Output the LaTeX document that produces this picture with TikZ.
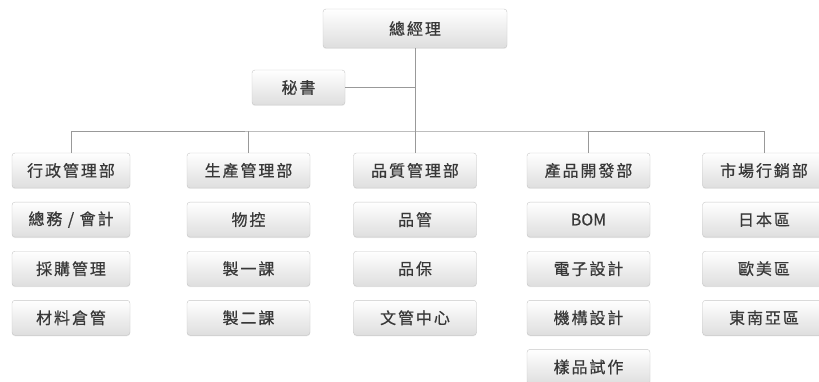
\documentclass[tikz,border=0pt]{standalone}
\usepackage{fontspec}
\newfontfamily\cjk[LetterSpace=12,FakeBold=0.6]{Noto Sans CJK TC}
\newfontfamily\latn[FakeBold=0.6]{Noto Sans CJK TC}
\usetikzlibrary{positioning,shadows}

\begin{document}
\begin{tikzpicture}[x=1pt,y=-1pt]
\tikzstyle{unit}=[rectangle, rounded corners=3pt, draw=black!22, top color=white, bottom color=black!13, minimum width=123pt, minimum height=35pt, inner sep=0pt, font=\cjk\fontsize{16}{16}\selectfont, text=black!78, drop shadow={opacity=0.15, shadow xshift=0pt, shadow yshift=-1pt}, node distance=13.7pt]
\tikzstyle{link}=[draw=black!40, line width=0.8pt]
  \useasboundingbox (0,0) rectangle (819,382);
  \node[unit, minimum width=184pt, minimum height=39pt] (ceo) at (415,28.5) {總經理};
  \node[unit, minimum width=93pt] (sec) at (298.5,87.5) {秘書};
  \coordinate (bus) at (415,131);
  % departments
  \node[unit, minimum width=118pt] (admin) at (71,170.5) {行政管理部};
  \node[unit] (prod) at (248.5,170.5) {生產管理部};
  \node[unit] (qual) at (415,170.5) {品質管理部};
  \node[unit] (rnd) at (588.5,170.5) {產品開發部};
  \node[unit] (mkt) at (764,170.5) {市場行銷部};
  % sections
  \node[unit, minimum width=118pt] (admin1) [below=of admin] {總務 / 會計};
  \node[unit, minimum width=118pt] (admin2) [below=of admin1] {採購管理};
  \node[unit, minimum width=118pt] (admin3) [below=of admin2] {材料倉管};
  \node[unit] (prod1) [below=of prod] {物控};
  \node[unit] (prod2) [below=of prod1] {製一課};
  \node[unit] (prod3) [below=of prod2] {製二課};
  \node[unit] (qual1) [below=of qual] {品管};
  \node[unit] (qual2) [below=of qual1] {品保};
  \node[unit] (qual3) [below=of qual2] {文管中心};
  \node[unit, font=\latn\fontsize{16}{16}\selectfont] (rnd1) [below=of rnd] {BOM};
  \node[unit] (rnd2) [below=of rnd1] {電子設計};
  \node[unit] (rnd3) [below=of rnd2] {機構設計};
  \node[unit] (rnd4) [below=of rnd3] {樣品試作};
  \node[unit] (mkt1) [below=of mkt] {日本區};
  \node[unit] (mkt2) [below=of mkt1] {歐美區};
  \node[unit] (mkt3) [below=of mkt2] {東南亞區};
  % lines
  \draw[link] (ceo.south) -- (bus);
  \draw[link] (sec.east) -- (sec.east -| ceo.south);
  \draw[link] (admin.north) |- (bus) -| (mkt.north);
  \foreach \d in {prod,qual,rnd}
    \draw[link] (\d.north) -- (\d.north |- bus);
\end{tikzpicture}
\end{document}
